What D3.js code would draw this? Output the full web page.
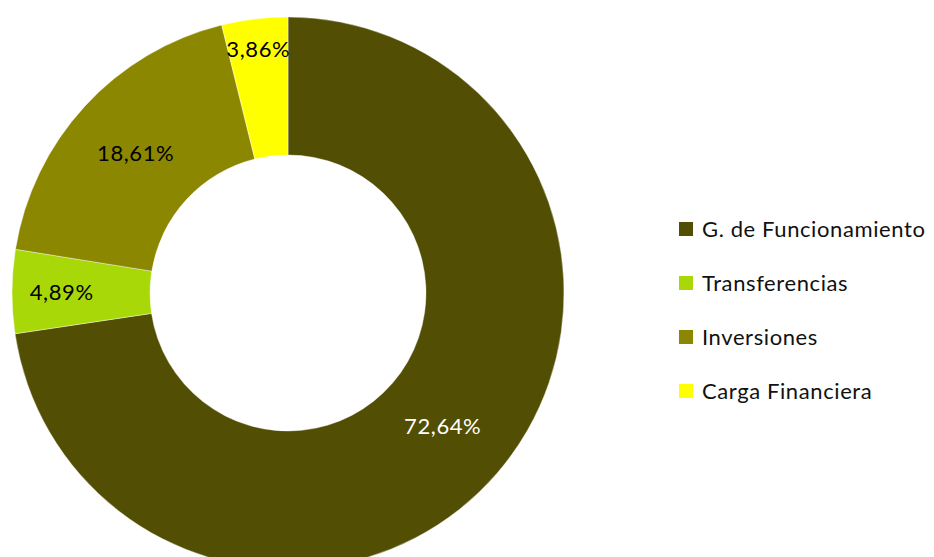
<!DOCTYPE html>
<html>
<head>
<meta charset="utf-8">
<script src="https://cdn.jsdelivr.net/npm/d3@7"></script>
<style>
  body { margin: 0; background: #fff; }
  text { font-family: Lato, "Open Sans", sans-serif; letter-spacing: 0.6px; }
</style>
</head>
<body>
<script>
// data
var categories = ["G. de Funcionamiento", "Transferencias", "Inversiones", "Carga Financiera"];
var values = [72.64, 4.89, 18.61, 3.86];
var labels = ["72,64%", "4,89%", "18,61%", "3,86%"];
var colors = ["#524E03", "#A8D808", "#8C8700", "#FFFF00"];
var labelColors = ["#ffffff", "#000000", "#000000", "#000000"];
// excel pushes small-slice labels outward
var labelRadius = [0.74, 0.82, 0.75, 0.89];

var width = 934, height = 557;
var cx = 288, cy = 293;
var R = 276, r = 138;

var svg = d3.select("body").append("svg")
    .attr("width", width)
    .attr("height", height);

var pie = d3.pie().sort(null).value(function(d) { return d; });
var arcs = pie(values);

var arc = d3.arc().innerRadius(r).outerRadius(R);

var g = svg.append("g")
    .attr("transform", "translate(" + cx + "," + cy + ")");

g.selectAll(".slice").data(arcs)
  .enter().append("path")
    .attr("class", "slice")
    .attr("d", arc)
    .attr("fill", function(d, i) { return colors[i]; })
    .attr("stroke", "#fff")
    .attr("stroke-width", 0.4);

g.selectAll(".lbl").data(arcs)
  .enter().append("text")
    .attr("class", "lbl")
    .attr("x", function(d, i) {
        var a = (d.startAngle + d.endAngle) / 2;
        return Math.sin(a) * R * labelRadius[i];
    })
    .attr("y", function(d, i) {
        var a = (d.startAngle + d.endAngle) / 2;
        return -Math.cos(a) * R * labelRadius[i];
    })
    .attr("dy", "0.35em")
    .attr("text-anchor", "middle")
    .attr("font-size", 22)
    .attr("fill", function(d, i) { return labelColors[i]; })
    .text(function(d, i) { return labels[i]; });

// legend
var legend = svg.append("g")
    .attr("transform", "translate(679,229)");

var row = legend.selectAll(".row").data(categories)
  .enter().append("g")
    .attr("class", "row")
    .attr("transform", function(d, i) { return "translate(0," + (i * 54) + ")"; });

row.append("rect")
    .attr("x", 0)
    .attr("y", -7)
    .attr("width", 14)
    .attr("height", 14)
    .attr("fill", function(d, i) { return colors[i]; });

row.append("text")
    .attr("x", 23)
    .attr("y", 0)
    .attr("dy", "0.35em")
    .attr("font-size", 22)
    .attr("fill", "#111")
    .text(function(d) { return d; });
</script>
</body>
</html>
